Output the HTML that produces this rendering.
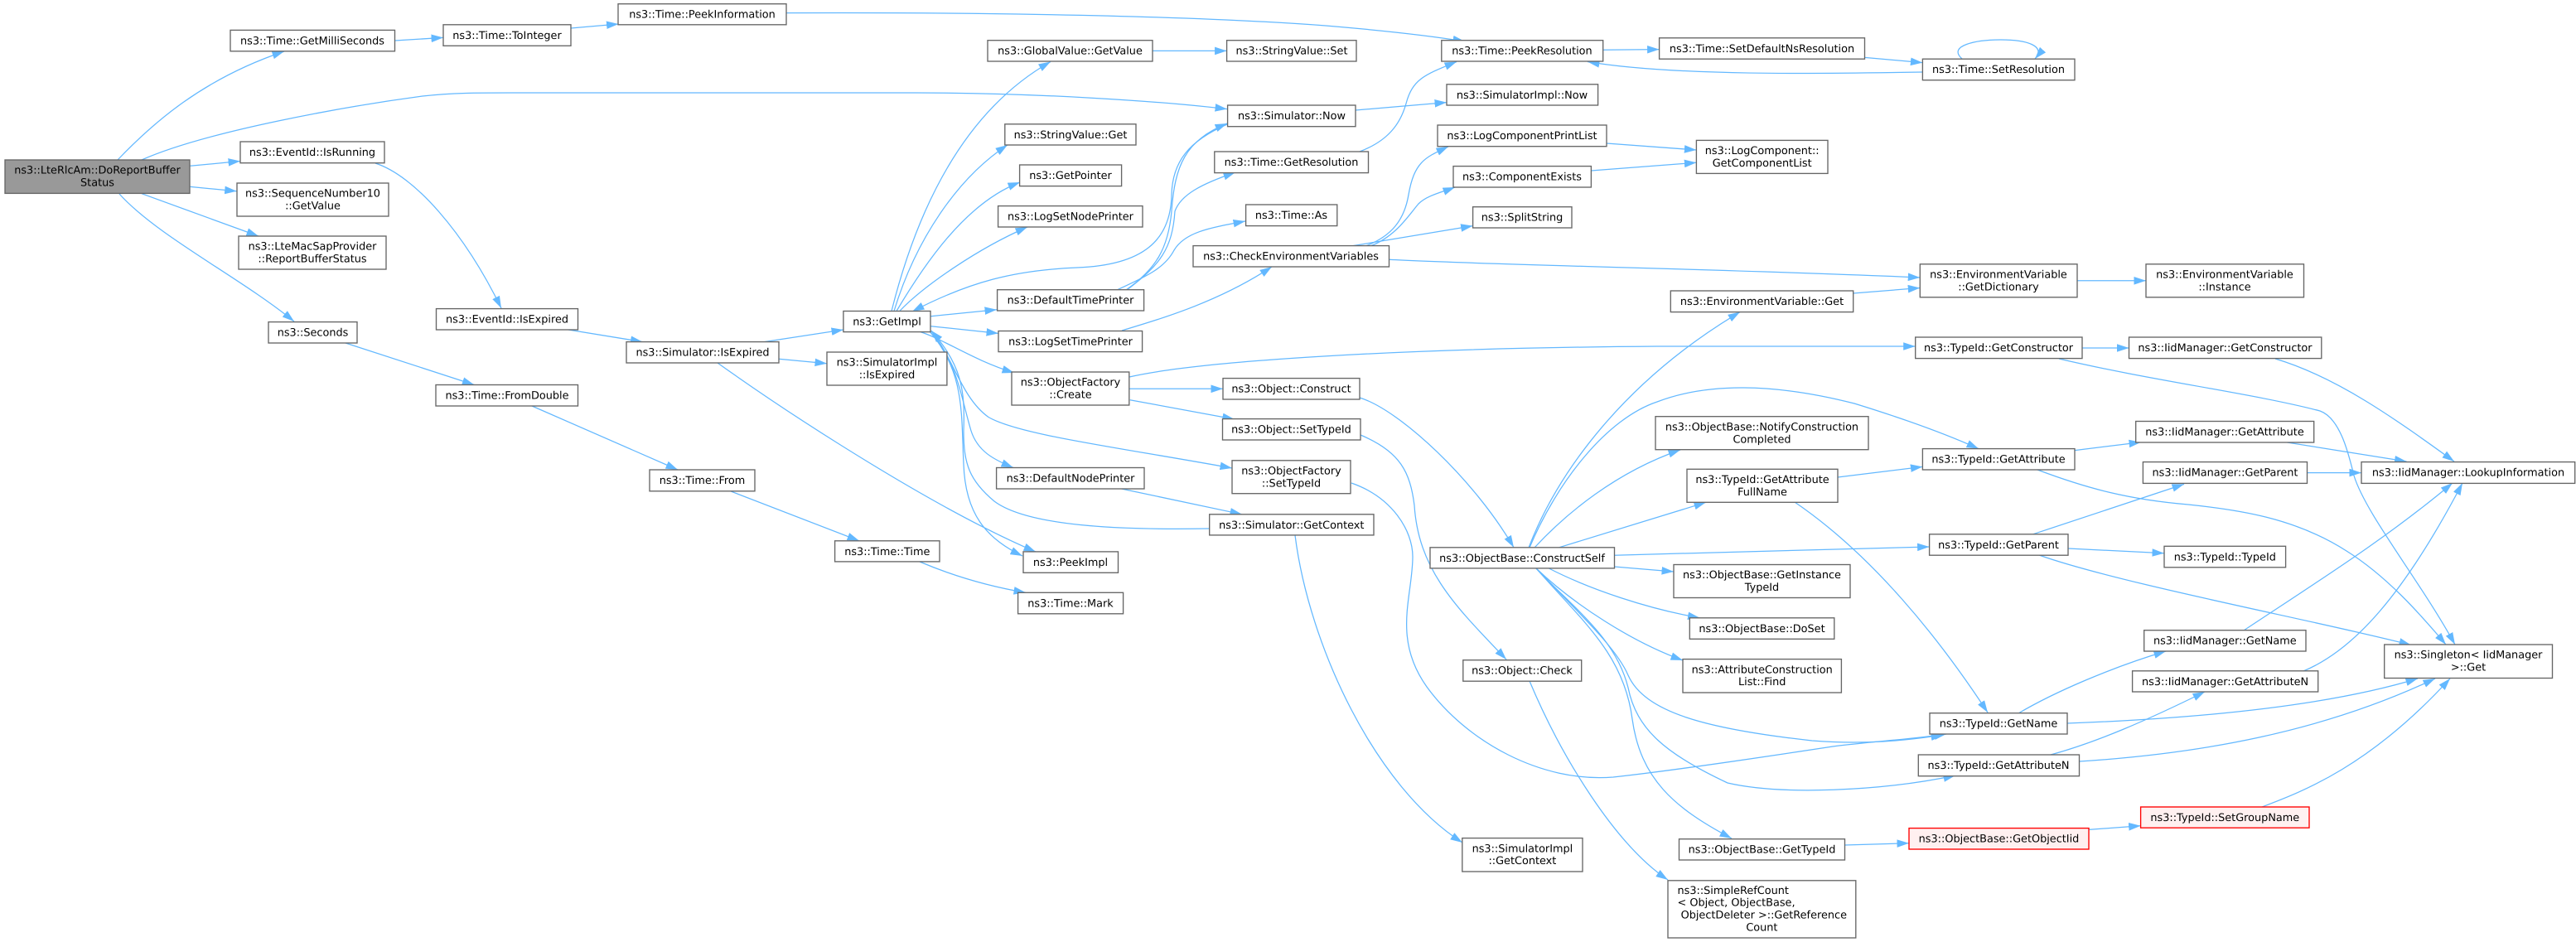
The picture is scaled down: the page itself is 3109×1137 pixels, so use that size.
<!DOCTYPE html>
<html><head><meta charset="utf-8"><style>
html,body{margin:0;padding:0;background:#fff;width:3109px;height:1137px;overflow:hidden}
svg{display:block}
.e path{fill:none;stroke:#63b8ff;stroke-width:1.25}
.n rect{fill:#fff;stroke:#666;stroke-width:1.35}
.r rect{fill:#fff0f0;stroke:#f00;stroke-width:1.35}
text{font-family:"DejaVu Sans","Liberation Sans",sans-serif;font-size:12.85px;fill:#000;text-anchor:middle;text-rendering:geometricPrecision}
</style></head><body>
<svg width="3109" height="1137" viewBox="0 0 3109 1137" xmlns="http://www.w3.org/2000/svg">
<defs><marker id="a" markerUnits="userSpaceOnUse" markerWidth="16" markerHeight="11" refX="14.5" refY="5" orient="auto"><path d="M0,0.2L14.5,5L0,9.8Z" fill="#63b8ff"/></marker></defs>
<rect width="3109" height="1137" fill="#fff"/>
<g class="e">
<path marker-end="url(#a)" d="M142,193C185,148 245,95 343,62"/>
<path marker-end="url(#a)" d="M171,193C250,158 420,128 510,116C550,111.5 580,112 640,112L1106,112C1250,112 1400,122 1481,131.6"/>
<path marker-end="url(#a)" d="M229.6,200.3L290,194.5"/>
<path marker-end="url(#a)" d="M229.6,225.4L285.7,230.8"/>
<path marker-end="url(#a)" d="M171,233.7L312,285"/>
<path marker-end="url(#a)" d="M144,234C190,285 290,335 355,388"/>
<path marker-end="url(#a)" d="M476.5,49L535,45.4"/>
<path marker-end="url(#a)" d="M689,34L746.5,29"/>
<path marker-end="url(#a)" d="M949,15.6C1100,15 1400,16 1600,31C1660,36 1725,43 1768,50"/>
<path marker-end="url(#a)" d="M453,197C500,212 560,280 605,372"/>
<path marker-end="url(#a)" d="M686,398L775.5,412.6"/>
<path marker-end="url(#a)" d="M417,414L572.4,464.5"/>
<path marker-end="url(#a)" d="M642,490L818,567"/>
<path marker-end="url(#a)" d="M881.6,592.8L1037,652.8"/>
<path marker-end="url(#a)" d="M1110,678C1150,695 1195,708 1238,715.3"/>
<path marker-end="url(#a)" d="M922.4,412.6L1018,398"/>
<path marker-end="url(#a)" d="M939.8,433.3L998,438.7"/>
<path marker-end="url(#a)" d="M866,438C960,505 1130,615 1250,666"/>
<path marker-end="url(#a)" d="M1076,375.5C1110,240 1170,130 1268,74.5"/>
<path marker-end="url(#a)" d="M1079,375.5C1105,290 1155,215 1216,175"/>
<path marker-end="url(#a)" d="M1082,375.5C1115,320 1165,245 1231,220"/>
<path marker-end="url(#a)" d="M1085.7,375.5C1115,345 1180,300 1240,274"/>
<path marker-end="url(#a)" d="M1123.5,381.7L1203,373.7"/>
<path marker-end="url(#a)" d="M1481,150C1435,170 1415,195 1414,235C1413,290 1380,320 1300,323C1225,326 1170,340 1101,376"/>
<path marker-end="url(#a)" d="M1359,350C1395,325 1410,300 1414,255C1418,200 1430,170 1481,149"/>
<path marker-end="url(#a)" d="M1360,350C1400,320 1415,300 1418,255C1425,235 1450,222 1491,208"/>
<path marker-end="url(#a)" d="M1348,350C1380,335 1405,325 1417,302C1430,280 1460,275 1503,267"/>
<path marker-end="url(#a)" d="M1641,183C1675,170 1690,150 1697,125C1705,95 1720,90 1758,74.5"/>
<path marker-end="url(#a)" d="M1635.7,133L1746,123.6"/>
<path marker-end="url(#a)" d="M1391,61.4L1480.6,61.4"/>
<path marker-end="url(#a)" d="M1934.7,60.3L2002.6,59.6"/>
<path marker-end="url(#a)" d="M2250.5,69.4L2320.4,75.6"/>
<path marker-end="url(#a)" d="M2320,87C2200,89 2020,92 1916,74.5"/>
<path marker-end="url(#a)" d="M2368,71C2350,55 2385,48 2415,48C2445,48 2470,55 2456,71"/>
<path marker-end="url(#a)" d="M1123.5,393.7L1205,402.4"/>
<path marker-end="url(#a)" d="M1354,399C1400,385 1470,365 1535,322"/>
<path marker-end="url(#a)" d="M1111,400.6C1140,410 1175,435 1224,450"/>
<path marker-end="url(#a)" d="M1124,400C1150,430 1160,480 1193,503.5C1230,525 1350,540 1487,565"/>
<path marker-end="url(#a)" d="M1122,400C1155,435 1160,480 1172,520C1180,545 1200,555 1223,564.5"/>
<path marker-end="url(#a)" d="M1122,400C1165,450 1160,500 1163,560C1165,620 1190,650 1234,671"/>
<path marker-end="url(#a)" d="M1460,638C1350,640 1240,635 1200,605C1170,580 1163,560 1163,520C1165,470 1160,440 1124,399"/>
<path marker-end="url(#a)" d="M1363,455C1450,435 1700,420 2000,418L2311.7,418"/>
<path marker-end="url(#a)" d="M1363,469.3L1476,469.3"/>
<path marker-end="url(#a)" d="M1363.8,482.7L1489.8,506"/>
<path marker-end="url(#a)" d="M1353.6,590L1499,620.8"/>
<path marker-end="url(#a)" d="M1563,646C1580,780 1660,950 1765,1017"/>
<path marker-end="url(#a)" d="M1641,480C1690,495 1780,580 1827,660.8"/>
<path marker-end="url(#a)" d="M1642,525C1690,545 1702,570 1707,610C1712,690 1760,735 1818,796"/>
<path marker-end="url(#a)" d="M1631,583C1680,600 1705,640 1705,672C1705,720 1680,770 1722,829C1770,895 1860,945 1947,938C2020,930 2120,915 2212,901C2260,895 2310,892 2349,886"/>
<path marker-end="url(#a)" d="M1846,822C1885,915 1950,1020 2013,1062"/>
<path marker-end="url(#a)" d="M1845,661C1880,570 1960,460 2100,376.6"/>
<path marker-end="url(#a)" d="M1846,661C1880,580 1940,505 2000,485C2060,462 2140,462 2238,487C2290,503 2340,520 2388,541.6"/>
<path marker-end="url(#a)" d="M1852,661C1890,620 1950,570 2028,543"/>
<path marker-end="url(#a)" d="M1881.6,660.8L2059,606.3"/>
<path marker-end="url(#a)" d="M1948.5,670.2L2328.6,660"/>
<path marker-end="url(#a)" d="M1948.5,684L2020,690"/>
<path marker-end="url(#a)" d="M1869.4,686C1920,712 1990,735 2051.5,745.8"/>
<path marker-end="url(#a)" d="M1854,686C1900,730 1970,775 2031,797"/>
<path marker-end="url(#a)" d="M1854,686C1900,735 1950,780 1965,815C1985,860 2060,880 2187,894C2250,899 2300,894 2345,887"/>
<path marker-end="url(#a)" d="M1854,686C1900,735 1950,770 1965,830C1975,880 2010,910 2085,945C2150,960 2270,955 2360,936"/>
<path marker-end="url(#a)" d="M1854,686C1910,750 1960,790 1970,868C1980,940 2020,975 2090,1012"/>
<path marker-end="url(#a)" d="M2226.5,1020L2304,1017.7"/>
<path marker-end="url(#a)" d="M2521,1001.4L2583.6,996.7"/>
<path marker-end="url(#a)" d="M2730,974C2780,955 2860,925 2957,819"/>
<path marker-end="url(#a)" d="M2475,911C2530,896 2590,870 2661,835"/>
<path marker-end="url(#a)" d="M2510,919C2650,910 2800,885 2939,819"/>
<path marker-end="url(#a)" d="M2436,861C2480,835 2550,805 2614,786"/>
<path marker-end="url(#a)" d="M2495,873C2630,868 2800,855 2918,819"/>
<path marker-end="url(#a)" d="M2780,810C2840,785 2900,720 2972,583"/>
<path marker-end="url(#a)" d="M2708,761C2800,700 2880,650 2960,583"/>
<path marker-end="url(#a)" d="M2453.6,644.8L2636,584.4"/>
<path marker-end="url(#a)" d="M2496,662L2612,667.7"/>
<path marker-end="url(#a)" d="M2461,670C2560,705 2800,750 2910,778.6"/>
<path marker-end="url(#a)" d="M2784.5,570.6L2850,570.6"/>
<path marker-end="url(#a)" d="M2760.5,534L2904.5,557"/>
<path marker-end="url(#a)" d="M2746,433C2820,455 2890,505 2962,557"/>
<path marker-end="url(#a)" d="M2485,433C2600,460 2720,475 2800,496C2825,505 2835,550 2841,574C2855,620 2920,700 2963,778"/>
<path marker-end="url(#a)" d="M2504,543.6L2584,533.7"/>
<path marker-end="url(#a)" d="M2459,567C2520,590 2570,603 2641,609C2700,615 2770,625 2832,665C2880,695 2920,740 2952,778"/>
<path marker-end="url(#a)" d="M2218,576L2320.4,563.4"/>
<path marker-end="url(#a)" d="M2166,606C2260,670 2340,770 2399,860"/>
<path marker-end="url(#a)" d="M2236.7,354L2317.3,347.5"/>
<path marker-end="url(#a)" d="M1676.5,313.3C1800,320 2100,325 2317.3,335"/>
<path marker-end="url(#a)" d="M2507,338.8L2590,338.8"/>
<path marker-end="url(#a)" d="M1648,297C1680,285 1695,265 1700,235C1707,195 1720,190 1748,177"/>
<path marker-end="url(#a)" d="M1654,297C1685,285 1700,260 1712,246C1722,236 1740,232 1756,226"/>
<path marker-end="url(#a)" d="M1633,296.6L1777.6,272.6"/>
<path marker-end="url(#a)" d="M1939,173L2047.4,181"/>
<path marker-end="url(#a)" d="M1920.4,206L2047.4,196.3"/>
<path marker-end="url(#a)" d="M2513,420L2569.5,420"/>
</g>
<g class="n">
<rect x="6" y="193" width="223" height="40.4" style="fill:#999"/><text x="117.5" y="209.7">ns3::LteRlcAm::DoReportBuffer</text><text x="117.5" y="224.6">Status</text>
<rect x="278" y="36.4" width="198.5" height="25.4"/><text x="377" y="53.4">ns3::Time::GetMilliSeconds</text>
<rect x="535" y="29.8" width="154" height="25.5"/><text x="612" y="46.8">ns3::Time::ToInteger</text>
<rect x="746" y="4.7" width="203" height="25.1"/><text x="847.5" y="21.7">ns3::Time::PeekInformation</text>
<rect x="290" y="171" width="174" height="25.7"/><text x="377" y="188">ns3::EventId::IsRunning</text>
<rect x="286" y="221" width="183" height="40"/><text x="377.5" y="237.7">ns3::SequenceNumber10</text><text x="377.5" y="252.6">::GetValue</text>
<rect x="288" y="285" width="178" height="40"/><text x="377" y="301.7">ns3::LteMacSapProvider</text><text x="377" y="316.6">::ReportBufferStatus</text>
<rect x="324" y="388.6" width="107" height="25.4"/><text x="377.5" y="405.6">ns3::Seconds</text>
<rect x="526.5" y="372.6" width="171" height="25.4"/><text x="612" y="389.6">ns3::EventId::IsExpired</text>
<rect x="526" y="464.5" width="171.5" height="25.5"/><text x="612" y="481.5">ns3::Time::FromDouble</text>
<rect x="756" y="412.6" width="184" height="25.4"/><text x="848" y="429.6">ns3::Simulator::IsExpired</text>
<rect x="784" y="567" width="127" height="25.8"/><text x="847.5" y="584">ns3::Time::From</text>
<rect x="1192" y="48.7" width="199" height="25.3"/><text x="1291.5" y="65.7">ns3::GlobalValue::GetValue</text>
<rect x="1480.6" y="48.7" width="156.4" height="25.3"/><text x="1559" y="65.7">ns3::StringValue::Set</text>
<rect x="1481.6" y="127" width="154.4" height="25.7"/><text x="1559" y="144">ns3::Simulator::Now</text>
<rect x="1212.8" y="149.8" width="158.2" height="25.2"/><text x="1292" y="166.8">ns3::StringValue::Get</text>
<rect x="1230.6" y="199" width="123" height="25.6"/><text x="1292" y="216">ns3::GetPointer</text>
<rect x="1204.6" y="248.6" width="174.4" height="25.4"/><text x="1292" y="265.6">ns3::LogSetNodePrinter</text>
<rect x="1465.8" y="183" width="185.7" height="25.6"/><text x="1558.5" y="200">ns3::Time::GetResolution</text>
<rect x="1503.6" y="247" width="110.2" height="25.6"/><text x="1558.5" y="264">ns3::Time::As</text>
<rect x="1440" y="296.6" width="236.5" height="25.4"/><text x="1558" y="313.6">ns3::CheckEnvironmentVariables</text>
<rect x="1203.6" y="349.7" width="177" height="25.3"/><text x="1292" y="366.7">ns3::DefaultTimePrinter</text>
<rect x="1017.9" y="375.5" width="105.1" height="25.1"/><text x="1070.5" y="392.5">ns3::GetImpl</text>
<rect x="1205" y="399.5" width="173.6" height="25.1"/><text x="1292" y="416.5">ns3::LogSetTimePrinter</text>
<rect x="998" y="425" width="144.9" height="40"/><text x="1070.5" y="441.7">ns3::SimulatorImpl</text><text x="1070.5" y="456.6">::IsExpired</text>
<rect x="1221" y="449" width="141.8" height="40"/><text x="1292" y="465.7">ns3::ObjectFactory</text><text x="1292" y="480.6">::Create</text>
<rect x="1476" y="456.6" width="165" height="25.4"/><text x="1558.5" y="473.6">ns3::Object::Construct</text>
<rect x="1475.5" y="505.6" width="166.5" height="25.4"/><text x="1558.5" y="522.6">ns3::Object::SetTypeId</text>
<rect x="1202.6" y="564.5" width="178.4" height="25.5"/><text x="1292" y="581.5">ns3::DefaultNodePrinter</text>
<rect x="1487" y="555.8" width="143" height="39.9"/><text x="1558.5" y="572.5">ns3::ObjectFactory</text><text x="1558.5" y="587.4">::SetTypeId</text>
<rect x="1739.8" y="48.7" width="194.9" height="25.3"/><text x="1837" y="65.7">ns3::Time::PeekResolution</text>
<rect x="2002.6" y="45.8" width="247.9" height="25.4"/><text x="2126.5" y="62.8">ns3::Time::SetDefaultNsResolution</text>
<rect x="2320.4" y="71.2" width="183.6" height="25.5"/><text x="2412" y="88.2">ns3::Time::SetResolution</text>
<rect x="1746" y="101.8" width="182.6" height="25.2"/><text x="1837" y="118.8">ns3::SimulatorImpl::Now</text>
<rect x="1735" y="151" width="204" height="25.7"/><text x="1837" y="168">ns3::LogComponentPrintList</text>
<rect x="2047.4" y="169.4" width="158.6" height="40"/><text x="2126.7" y="186.1">ns3::LogComponent::</text><text x="2126.7" y="201">GetComponentList</text>
<rect x="1754" y="200.6" width="166.4" height="25.4"/><text x="1837" y="217.6">ns3::ComponentExists</text>
<rect x="1777.6" y="249.7" width="119.4" height="25.3"/><text x="1837" y="266.7">ns3::SplitString</text>
<rect x="2317.3" y="318.8" width="189.7" height="40"/><text x="2412" y="335.5">ns3::EnvironmentVariable</text><text x="2412" y="350.4">::GetDictionary</text>
<rect x="2590" y="318.8" width="190.5" height="40"/><text x="2685" y="335.5">ns3::EnvironmentVariable</text><text x="2685" y="350.4">::Instance</text>
<rect x="2016.3" y="351" width="220.4" height="25.6"/><text x="2126.5" y="368">ns3::EnvironmentVariable::Get</text>
<rect x="2311.7" y="407" width="201.3" height="25.6"/><text x="2412" y="424">ns3::TypeId::GetConstructor</text>
<rect x="2569.5" y="407" width="232.3" height="25.6"/><text x="2685.5" y="424">ns3::IidManager::GetConstructor</text>
<rect x="1998" y="502.7" width="257" height="40"/><text x="2126.5" y="519.4">ns3::ObjectBase::NotifyConstruction</text><text x="2126.5" y="534.3">Completed</text>
<rect x="2320.4" y="541.6" width="183.6" height="25.4"/><text x="2412" y="558.6">ns3::TypeId::GetAttribute</text>
<rect x="2577.7" y="508.5" width="215" height="25.5"/><text x="2685" y="525.5">ns3::IidManager::GetAttribute</text>
<rect x="2586.4" y="557.6" width="198.1" height="25.8"/><text x="2685.5" y="574.6">ns3::IidManager::GetParent</text>
<rect x="2850" y="557.6" width="257.7" height="25.8"/><text x="2979" y="574.6">ns3::IidManager::LookupInformation</text>
<rect x="2036" y="566.3" width="182" height="40"/><text x="2127" y="583">ns3::TypeId::GetAttribute</text><text x="2127" y="597.9">FullName</text>
<rect x="1726" y="660.8" width="222.5" height="25.1"/><text x="1837" y="677.8">ns3::ObjectBase::ConstructSelf</text>
<rect x="2020" y="681.5" width="213" height="40"/><text x="2126.5" y="698.2">ns3::ObjectBase::GetInstance</text><text x="2126.5" y="713.1">TypeId</text>
<rect x="2328.6" y="644.8" width="167.4" height="25.4"/><text x="2412" y="661.8">ns3::TypeId::GetParent</text>
<rect x="2039.3" y="745.8" width="174.5" height="25.5"/><text x="2126.5" y="762.8">ns3::ObjectBase::DoSet</text>
<rect x="2031" y="795.6" width="191.4" height="40.4"/><text x="2126.7" y="812.3">ns3::AttributeConstruction</text><text x="2126.7" y="827.2">List::Find</text>
<rect x="1765.8" y="796.7" width="142.9" height="25.5"/><text x="1837" y="813.7">ns3::Object::Check</text>
<rect x="2329" y="860.7" width="166" height="25.3"/><text x="2412" y="877.7">ns3::TypeId::GetName</text>
<rect x="2315.3" y="911" width="194.2" height="25.7"/><text x="2412" y="928">ns3::TypeId::GetAttributeN</text>
<rect x="1764.8" y="1011.6" width="145.2" height="40.4"/><text x="1837.4" y="1028.3">ns3::SimulatorImpl</text><text x="1837.4" y="1043.2">::GetContext</text>
<rect x="2026.5" y="1012.7" width="200" height="25.3"/><text x="2126.5" y="1029.7">ns3::ObjectBase::GetTypeId</text>
<rect x="2013" y="1062.8" width="226.8" height="69.2"/>
<text x="2024.5" y="1078.8" style="text-anchor:start">ns3::SimpleRefCount</text><text x="2024.5" y="1093.5" style="text-anchor:start">&lt; Object, ObjectBase,</text><text x="2028.6" y="1108.4" style="text-anchor:start">ObjectDeleter &gt;::GetReference</text><text x="2126.4" y="1123.3">Count</text>
<rect x="1459.7" y="620.8" width="198.3" height="25.1"/><text x="1558.8" y="637.8">ns3::Simulator::GetContext</text>
<rect x="1007.6" y="652.8" width="126.4" height="25.1"/><text x="1070.8" y="669.8">ns3::Time::Time</text>
<rect x="1235" y="665.9" width="114.5" height="25.4"/><text x="1292" y="682.9">ns3::PeekImpl</text>
<rect x="1228.6" y="715.3" width="127" height="25.5"/><text x="1292" y="732.3">ns3::Time::Mark</text>
<rect x="2587.7" y="760.7" width="195.3" height="25.3"/><text x="2685.3" y="777.7">ns3::IidManager::GetName</text>
<rect x="2573.6" y="809.8" width="224.1" height="25.2"/><text x="2685.6" y="826.8">ns3::IidManager::GetAttributeN</text>
<rect x="2612" y="659.3" width="146.6" height="25.5"/><text x="2685.3" y="676.3">ns3::TypeId::TypeId</text>
<rect x="2877.7" y="778" width="202.8" height="40.5"/><text x="2979" y="794.7">ns3::Singleton&lt; IidManager</text><text x="2979" y="809.6">&gt;::Get</text>
</g>
<g class="r">
<rect x="2304" y="999.6" width="217" height="25.4"/><text x="2412.5" y="1016.6">ns3::ObjectBase::GetObjectIid</text>
<rect x="2583.6" y="974" width="203.4" height="25.2"/><text x="2685.3" y="991">ns3::TypeId::SetGroupName</text>
</g>
</svg>
</body></html>
